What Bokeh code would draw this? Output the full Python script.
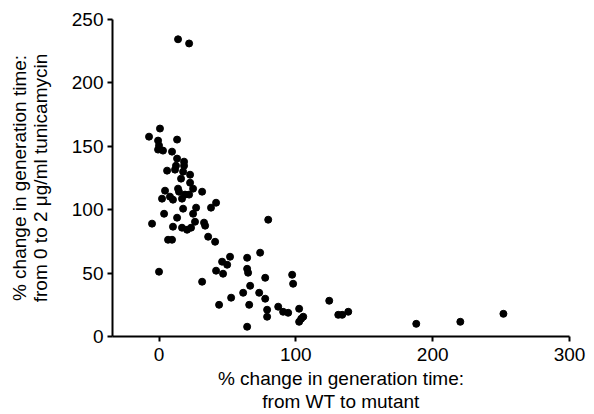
from bokeh.plotting import figure
from bokeh.models import Range1d, FixedTicker
from bokeh.embed import file_html
from bokeh.resources import INLINE

# % change in generation time: from WT to mutant
wt_to_mutant = [
    13.9, 22.0, 0.7, -7.3, -0.7, 13.2, 0.0, -0.7, 2.9, 9.5,
    13.2, 18.3, 18.3, 12.4, 5.9, 11.7, 17.6, 22.7, 16.1, 22.7,
    4.4, 13.9, 14.6, 24.9, 31.5, 2.2, 8.0, 10.2, 16.8, 19.0,
    22.0, 41.7, 38.0, 17.6, 27.1, 3.7, 24.9, 13.2, 26.3, -5.1,
    32.9, 33.7, 10.2, 16.8, 20.5, 23.4, 35.9, 41.0, 6.6, 9.5,
    79.8, 31.5, 51.9, 46.1, 49.8, 64.4, 73.9, 41.7, 46.8, 64.4,
    65.1, 77.6, 97.3, 98.0, 66.6, 61.5, 73.2, 52.7, 77.6, 43.9,
    65.9, 87.1, 79.0, 90.7, 94.4, 79.0, 102.4, 105.4, 103.9, 102.4,
    124.4, 131.0, 133.9, 138.3, 64.4, 188.0, 220.2, 251.7, 0.0,
]
# % change in generation time: from 0 to 2 ug/ml tunicamycin
tunicamycin = [
    234.4, 231.1, 164.0, 157.6, 154.5, 155.3, 150.6, 147.4, 146.6, 145.8,
    140.3, 137.9, 134.7, 134.7, 130.8, 131.6, 130.0, 127.6, 124.5, 121.3,
    115.0, 116.6, 114.2, 116.6, 114.2, 108.7, 110.3, 107.9, 108.7, 111.9,
    111.9, 105.5, 101.6, 100.8, 101.6, 96.8, 96.8, 93.7, 90.5, 89.0,
    89.8, 87.4, 86.6, 85.8, 84.2, 85.8, 78.7, 74.7, 76.3, 76.3,
    92.1, 43.2, 62.9, 59.0, 56.6, 62.1, 66.1, 51.9, 49.5, 53.4,
    50.3, 46.3, 48.7, 41.6, 40.0, 34.5, 34.5, 30.6, 29.8, 25.0,
    25.0, 23.5, 21.1, 19.5, 18.7, 15.6, 21.9, 15.6, 14.0, 11.6,
    28.2, 17.1, 17.1, 19.5, 7.7, 10.0, 11.6, 17.9, 51.1,
]
x_ticks = [0, 100, 200, 300]
y_ticks = [0, 50, 100, 150, 200, 250]

FONT = "Liberation Sans"

p = figure(width=594, height=414, output_backend="svg", toolbar_location=None,
           x_range=Range1d(-34, 300), y_range=Range1d(0, 250),
           min_border_left=112, min_border_right=25, min_border_top=19,
           min_border_bottom=78)

p.scatter(wt_to_mutant, tunicamycin, size=7, marker="circle",
          fill_color="black", line_color="black")

p.xgrid.visible = False
p.ygrid.visible = False
p.outline_line_color = None
p.background_fill_color = "white"
p.border_fill_color = "white"

p.xaxis.ticker = FixedTicker(ticks=x_ticks)
p.yaxis.ticker = FixedTicker(ticks=y_ticks)
p.xaxis.axis_label = "% change in generation time:\nfrom WT to mutant"
p.yaxis.axis_label = "% change in generation time:\nfrom 0 to 2 \u03bcg/ml tunicamycin"

for ax in (p.xaxis[0], p.yaxis[0]):
    ax.axis_line_width = 2
    ax.axis_line_color = "black"
    ax.major_tick_line_width = 2
    ax.major_tick_line_color = "black"
    ax.major_tick_out = 5
    ax.major_tick_in = 0
    ax.minor_tick_line_color = None
    ax.major_label_text_font = FONT
    ax.major_label_text_font_size = "19px"
    ax.major_label_text_color = "black"
    ax.axis_label_text_font = FONT
    ax.axis_label_text_font_size = "19px"
    ax.axis_label_text_font_style = "normal"
    ax.axis_label_text_color = "black"

p.xaxis.major_label_standoff = 6
p.yaxis.major_label_standoff = 4
p.xaxis.axis_label_standoff = 4
p.yaxis.axis_label_standoff = 18
p.xaxis.axis_label_text_line_height = 1.1
p.yaxis.axis_label_text_line_height = 1.0

open("out.html", "w").write(file_html(p, INLINE))
